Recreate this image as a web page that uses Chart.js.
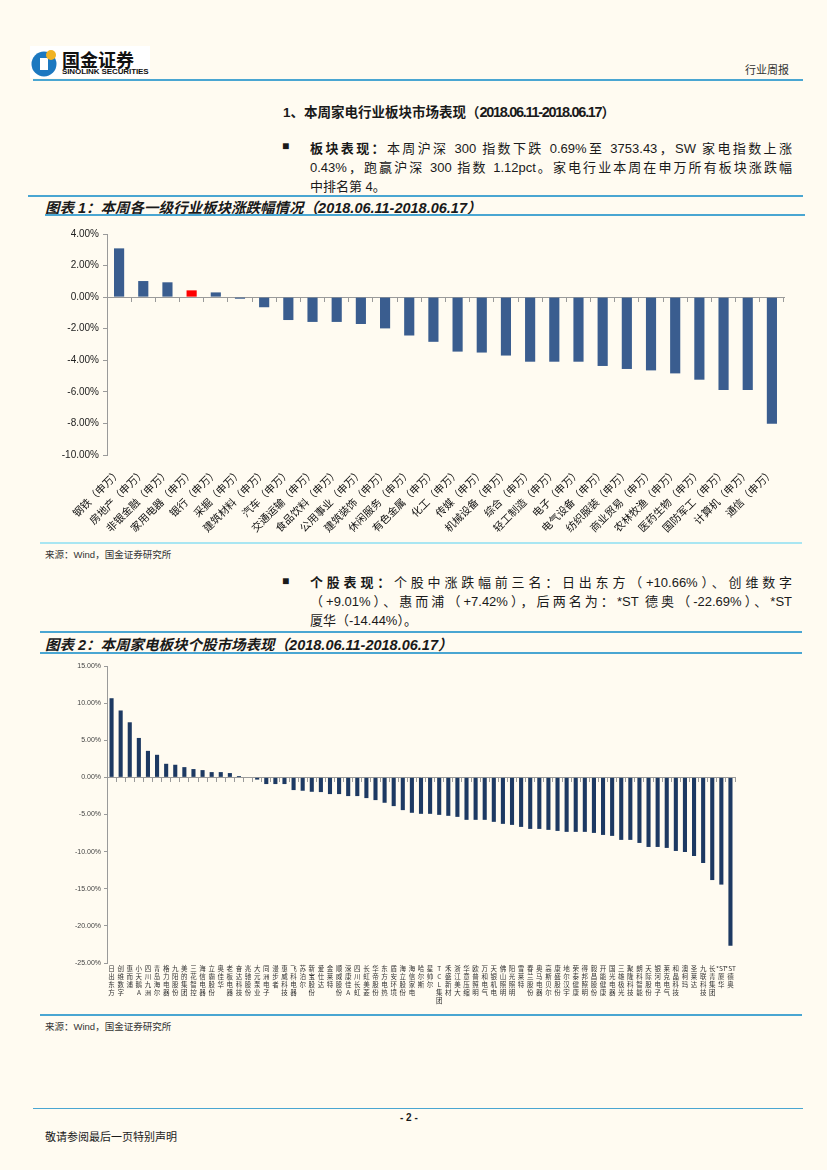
<!DOCTYPE html>
<html>
<head>
<meta charset="utf-8">
<script src="https://cdn.jsdelivr.net/npm/chart.js@4.4.1/dist/chart.umd.min.js"></script>
<style>
  html, body { margin: 0; padding: 0; }
  body { width: 827px; height: 1170px; position: relative; background: #fffbf1; overflow: hidden;
         font-family: 'Liberation Sans', 'Noto Sans CJK SC', sans-serif; color: #1a1a1a; }
  .abs { position: absolute; white-space: nowrap; }
  .rule { position: absolute; height: 0; border-top: 2px solid #4aa6d2; }
  .para div { text-align: justify; text-align-last: justify; height: 19px; }
  .para div.last { text-align-last: left; }
  .cap { font-weight: bold; font-style: italic; font-size: 14.5px; }
  .src { font-size: 9.5px; color: #333; }
  .narrow { font-size: 14.5px; letter-spacing: -1.3px; }
</style>
</head>
<body>
<!-- header -->
<div class="abs" style="left:30px;top:46px;width:120px;height:32px;background:#fff;"></div>
<svg class="abs" style="left:31px;top:47px" width="28" height="31" viewBox="0 0 28 31">
  <circle cx="13" cy="17" r="12.5" fill="#1c78c0"/>
  <path d="M9 11 h8 v12 h-8 z" fill="#fff"/>
  <circle cx="20" cy="8" r="5" fill="#f0b323"/>
</svg>
<div class="abs" style="left:62px;top:46px;font-size:18px;font-weight:bold;color:#111;font-family:'Noto Sans CJK SC';">国金证券</div>
<div class="abs" style="left:62px;top:67px;font-size:8px;font-weight:bold;color:#111;letter-spacing:-0.1px;">SINOLINK SECURITIES</div>
<div class="abs" style="left:745px;top:61px;font-size:11px;color:#333;font-family:'Noto Sans CJK SC';">行业周报</div>
<div class="rule" style="left:33px;top:79px;width:770px;"></div>

<div class="abs" style="left:283px;top:101px;font-size:13.5px;font-weight:bold;">1、本周家电行业板块市场表现（<span class="narrow">2018.06.11-2018.06.17</span>）</div>

<div class="abs" style="left:282px;top:139px;font-size:12px;">■</div>
<div class="abs para" style="left:310px;top:138px;width:482px;font-size:13px;white-space:normal;">
  <div><b>板块表现：</b>本周沪深 300 指数下跌 0.69%至 3753.43，SW 家电指数上涨</div>
  <div>0.43%，跑赢沪深 300 指数 1.12pct。家电行业本周在申万所有板块涨跌幅</div>
  <div class="last">中排名第 4。</div>
</div>

<div class="rule" style="left:28px;top:195px;width:775px;"></div>
<div class="abs cap" style="left:45px;top:196px;">图表 1：本周各一级行业板块涨跌幅情况（2018.06.11-2018.06.17）</div>
<div class="rule" style="left:45px;top:214px;width:760px;"></div>

<div class="abs" style="left:40px;top:222px;width:765px;height:320px;"><canvas id="c1"></canvas></div>

<div class="rule" style="left:40px;top:542px;width:762px;border-top-color:#a9e6f2;"></div>
<div class="abs src" style="left:45px;top:547px;">来源：Wind，国金证券研究所</div>

<div class="abs" style="left:282px;top:574px;font-size:12px;">■</div>
<div class="abs para" style="left:310px;top:572px;width:482px;font-size:13px;white-space:normal;">
  <div><b>个股表现：</b>个股中涨跌幅前三名：日出东方（+10.66%）、创维数字</div>
  <div>（+9.01%）、惠而浦（+7.42%），后两名为：*ST 德奥（-22.69%）、*ST</div>
  <div class="last">厦华（-14.44%）。</div>
</div>

<div class="rule" style="left:40px;top:631px;width:762px;"></div>
<div class="abs cap" style="left:45px;top:633px;">图表 2：本周家电板块个股市场表现（2018.06.11-2018.06.17）</div>
<div class="rule" style="left:40px;top:652px;width:762px;"></div>

<div class="abs" style="left:40px;top:657px;width:765px;height:350px;"><canvas id="c2"></canvas></div>

<div class="rule" style="left:40px;top:1014px;width:762px;"></div>
<div class="abs src" style="left:45px;top:1019px;">来源：Wind，国金证券研究所</div>

<!-- footer -->
<div class="rule" style="left:33px;top:1108px;width:770px;border-top-width:1px;"></div>
<div class="abs" style="left:400px;top:1112px;font-size:10px;font-weight:bold;">- 2 -</div>
<div class="abs" style="left:45px;top:1128px;font-size:11px;font-family:'Noto Sans CJK SC';">敬请参阅最后一页特别声明</div>

<script>
const FONT = "'Liberation Sans', 'Noto Sans CJK SC', sans-serif";
const AXIS = '#9a9a9a', INK = '#222';

// chart 1: SW level-1 industries, weekly change (%)
const industries = ['钢铁', '房地产', '非银金融', '家用电器', '银行', '采掘', '建筑材料', '汽车', '交通运输',
  '食品饮料', '公用事业', '建筑装饰', '休闲服务', '有色金属', '化工', '传媒', '机械设备', '综合', '轻工制造',
  '电子', '电气设备', '纺织服装', '商业贸易', '农林牧渔', '医药生物', '国防军工', '计算机', '通信'];
const industryChg = [3.09, 1.02, 0.94, 0.43, 0.30, -0.10, -0.64, -1.45, -1.57, -1.57, -1.70, -1.98, -2.43, -2.83,
  -3.45, -3.51, -3.70, -4.09, -4.09, -4.09, -4.36, -4.55, -4.64, -4.83, -5.23, -5.89, -5.89, -8.02];
const highlight = '家用电器';

// chart 2: appliance stocks, weekly change (%)
const stocks = ['日出东方', '创维数字', '惠而浦', '小天鹅A', '四川九洲', '青岛海尔', '格力电器', '九阳股份', '美的集团',
  '三花智控', '海信电器', '立霸股份', '奥佳华', '老板电器', '奋达科技', '兆驰股份', '大元泵业', '同洲电子', '漫步者',
  '惠威科技', '飞科电器', '苏泊尔', '新宝股份', '爱仕达', '金莱特', '顺威股份', '深康佳A', '四川长虹', '长虹美菱',
  '华帝股份', '东方电热', '盾安环境', '海立股份', '海信家电', '哈尔斯', '星帅尔', 'TCL集团', '禾盛新材', '浙江美大',
  '华意压缩', '欧普照明', '万和电气', '天银机电', '佛山照明', '阳光照明', '雪莱特', '春兰股份', '奥马电器', '高斯贝尔',
  '康盛股份', '地尔汉宇', '荣泰健康', '得邦照明', '毅昌股份', '开能健康', '国光电器', '三雄极光', '聚隆科技', '朗科智能',
  '天际股份', '银河电子', '莱克电气', '和晶科技', '澳柯玛', '圣莱达', '九联科技', '长青集团', '*ST厦华', '*ST德奥'];
const stockChg = [10.66, 9.01, 7.42, 5.31, 3.57, 3.04, 1.83, 1.70, 1.38, 1.12, 0.98, 0.71, 0.71, 0.58, 0.18, 0.00,
  -0.30, -0.90, -0.90, -0.90, -1.71, -1.80, -1.94, -1.98, -2.25, -2.25, -2.52, -2.52, -2.79, -3.06, -3.42, -3.87,
  -4.41, -4.77, -4.91, -4.91, -5.05, -5.18, -5.32, -5.72, -5.72, -5.72, -5.99, -6.26, -6.40, -6.67, -6.94, -6.94,
  -7.07, -7.21, -7.34, -7.34, -7.34, -7.48, -7.75, -7.88, -8.42, -8.42, -8.83, -9.37, -9.37, -9.50, -9.91, -10.05,
  -10.59, -11.53, -13.83, -14.44, -22.69];

const pct = (v) => v.toFixed(2) + '%';

function fixSize(w, h) {
  return (s) => { if (w != null) s.width = w; if (h != null) s.height = h; };
}

// stack a name vertically, one character per line ('*ST' kept together)
function splitVertical(name) {
  const out = [];
  let rest = name;
  if (rest.startsWith('*ST')) { out.push('*ST'); rest = rest.slice(3); }
  return out.concat(Array.from(rest));
}

// zero-line axis with tick marks between categories
function zeroAxis() {
  return {
    type: 'category', position: { y: 0 }, offset: true,
    grid: { offset: true, drawOnChartArea: false, drawTicks: true, tickLength: 4, color: AXIS, lineWidth: 1 },
    border: { color: AXIS, width: 1 },
    ticks: { display: false }
  };
}

new Chart(document.getElementById('c1'), {
  type: 'bar',
  data: {
    labels: industries.map((n) => n + '（申万）'),
    datasets: [{
      data: industryChg,
      backgroundColor: industries.map((n) => n === highlight ? '#ff0000' : '#3a5d8f'),
      barPercentage: 0.42, categoryPercentage: 1
    }]
  },
  options: {
    responsive: true, maintainAspectRatio: false, animation: false,
    layout: { padding: { top: 12, right: 21, left: 0, bottom: 0 } },
    plugins: { legend: { display: false }, tooltip: { enabled: false } },
    scales: {
      x: {
        grid: { display: false }, border: { display: false },
        ticks: { autoSkip: false, minRotation: 45, maxRotation: 45, padding: 3, color: '#111',
                 font: { family: "'Noto Sans CJK SC', sans-serif", size: 10.5 } },
        afterFit: fixSize(null, 87)
      },
      x0: zeroAxis(),
      y: {
        min: -10, max: 4,
        grid: { drawOnChartArea: false, drawTicks: true, tickLength: 4, color: AXIS },
        border: { color: AXIS },
        ticks: { stepSize: 2, callback: pct, color: INK, padding: 4, font: { family: FONT, size: 10 } },
        afterFit: fixSize(67, null)
      }
    }
  }
});

new Chart(document.getElementById('c2'), {
  type: 'bar',
  data: {
    labels: stocks.map(splitVertical),
    datasets: [{ data: stockChg, backgroundColor: '#1d3962', barPercentage: 0.45, categoryPercentage: 1 }]
  },
  options: {
    responsive: true, maintainAspectRatio: false, animation: false,
    layout: { padding: { top: 9, right: 70, left: 0, bottom: 0 } },
    plugins: { legend: { display: false }, tooltip: { enabled: false } },
    scales: {
      x: {
        grid: { display: false }, border: { display: false },
        ticks: { autoSkip: false, minRotation: 0, maxRotation: 0, padding: -6, color: '#333',
                 font: { family: "'Noto Sans CJK SC', sans-serif", size: 6.5, lineHeight: 1.2 } },
        afterFit: fixSize(null, 44)
      },
      x0: zeroAxis(),
      y: {
        min: -25, max: 15,
        grid: { drawOnChartArea: false, drawTicks: true, tickLength: 3, color: AXIS },
        border: { color: AXIS },
        ticks: { stepSize: 5, callback: pct, color: '#444', padding: 3, font: { family: FONT, size: 7 } },
        afterFit: fixSize(67, null)
      }
    }
  }
});
</script>
</body>
</html>
